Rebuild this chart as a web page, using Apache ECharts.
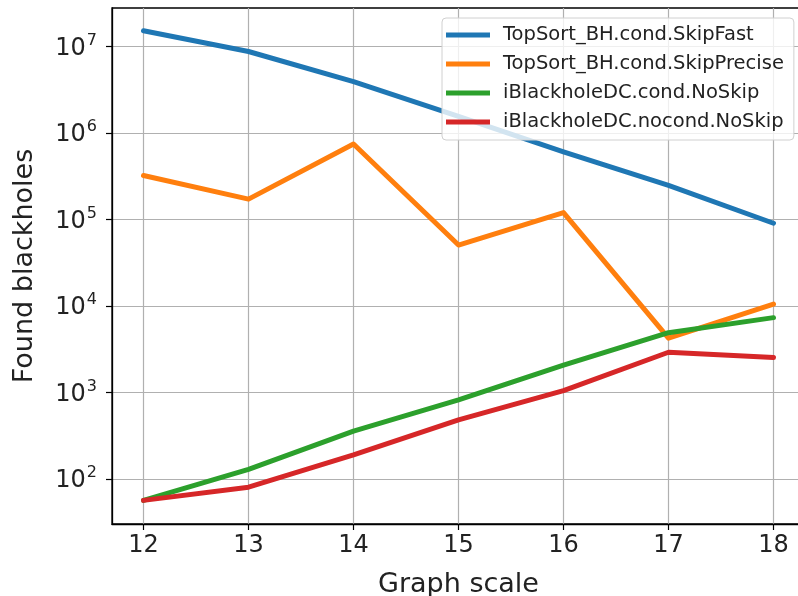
<!DOCTYPE html>
<html><head><meta charset="utf-8">
<script src="https://cdn.jsdelivr.net/npm/echarts@6/dist/echarts.min.js"></script>
<style>html,body{margin:0;padding:0;background:#fff}#c{width:798px;height:596px}</style>
</head><body><div id="c"></div>
<script>
const scales = [12, 13, 14, 15, 16, 17, 18];
const seriesNames = ['TopSort_BH.cond.SkipFast', 'TopSort_BH.cond.SkipPrecise', 'iBlackholeDC.cond.NoSkip', 'iBlackholeDC.nocond.NoSkip'];
const skipFast = [1.53e7, 8.8e6, 3.95e6, 1.57e6, 6.1e5, 2.5e5, 9.1e4];
const skipPrecise = [3.24e5, 1.73e5, 7.5e5, 5.1e4, 1.21e5, 4.27e3, 1.06e4];
const condNoSkip = [57, 130, 361, 826, 2090, 4950, 7380];
const nocondNoSkip = [57, 81, 191, 485, 1057, 2940, 2550];
const yTicks = [1e2, 1e3, 1e4, 1e5, 1e6, 1e7];
const colors = ['#1f77b4', '#ff7f0e', '#2ca02c', '#d62728'];
const FONT = 'DejaVu Sans';

const allData = [skipFast, skipPrecise, condNoSkip, nocondNoSkip];
const chart = echarts.init(document.getElementById('c'), null, {renderer: 'canvas'});
chart.setOption({
  animation: false,
  backgroundColor: '#fff',
  textStyle: {fontFamily: FONT},
  grid: {left: 112, top: 8, right: -7, bottom: 72, show: true, borderColor: '#000', borderWidth: 1.3, containLabel: false, outerBoundsMode: 'none'},
  legend: {
    show: true, orient: 'vertical', left: 442, top: 18,
    data: seriesNames,
    icon: 'rect', itemWidth: 44, itemHeight: 5, itemGap: 9,
    padding: [7, 10, 8, 4],
    backgroundColor: 'rgba(255,255,255,0.8)', borderColor: '#d0d0d0', borderWidth: 1, borderRadius: 4,
    textStyle: {fontFamily: FONT, fontSize: 19.5, color: '#222', lineHeight: 20, padding: [0, 0, 0, 8]}
  },
  xAxis: {
    type: 'value', min: 11.7, max: 18.3,
    name: 'Graph scale', nameLocation: 'middle', nameGap: 47,
    nameTextStyle: {fontFamily: FONT, fontSize: 27, color: '#222'},
    axisLine: {show: true, onZero: false, lineStyle: {color: '#000', width: 1.3}},
    axisTick: {show: true, inside: false, length: 6, customValues: scales, lineStyle: {color: '#000', width: 1.2}},
    axisLabel: {show: true, customValues: scales, margin: 10, fontFamily: FONT, fontSize: 24, color: '#222'},
    splitLine: {show: true, lineStyle: {color: '#b0b0b0', width: 1.2}}
  },
  yAxis: {
    type: 'log', logBase: 10, min: 30.4, max: 2.8e7,
    name: 'Found blackholes', nameLocation: 'middle', nameGap: 74,
    nameTextStyle: {fontFamily: FONT, fontSize: 27, color: '#222'},
    axisLine: {show: true, onZero: false, lineStyle: {color: '#000', width: 1.3}},
    axisTick: {show: true, inside: false, length: 6, customValues: yTicks, lineStyle: {color: '#000', width: 1.2}},
    axisLabel: {
      show: true, customValues: yTicks, margin: 15,
      formatter: function (v) {
        const e = Math.round(Math.log10(v));
        return '{a|10}{b|' + e + '}';
      },
      rich: {
        a: {fontFamily: FONT, fontSize: 24, color: '#222', lineHeight: 28, verticalAlign: 'bottom'},
        b: {fontFamily: FONT, fontSize: 16, color: '#222', lineHeight: 28, verticalAlign: 'top', padding: [0, 0, 0, 1]}
      }
    },
    splitLine: {show: true, lineStyle: {color: '#b0b0b0', width: 1.2}},
    minorTick: {show: false}, minorSplitLine: {show: false}
  },
  series: seriesNames.map(function (n, i) {
    return {
      name: n, type: 'line', showSymbol: false, symbol: 'none',
      data: scales.map(function (x, j) { return [x, allData[i][j]]; }),
      lineStyle: {color: colors[i], width: 5, cap: 'round', join: 'round'},
      itemStyle: {color: colors[i]},
      z: 3 + i
    };
  })
});
</script></body></html>
